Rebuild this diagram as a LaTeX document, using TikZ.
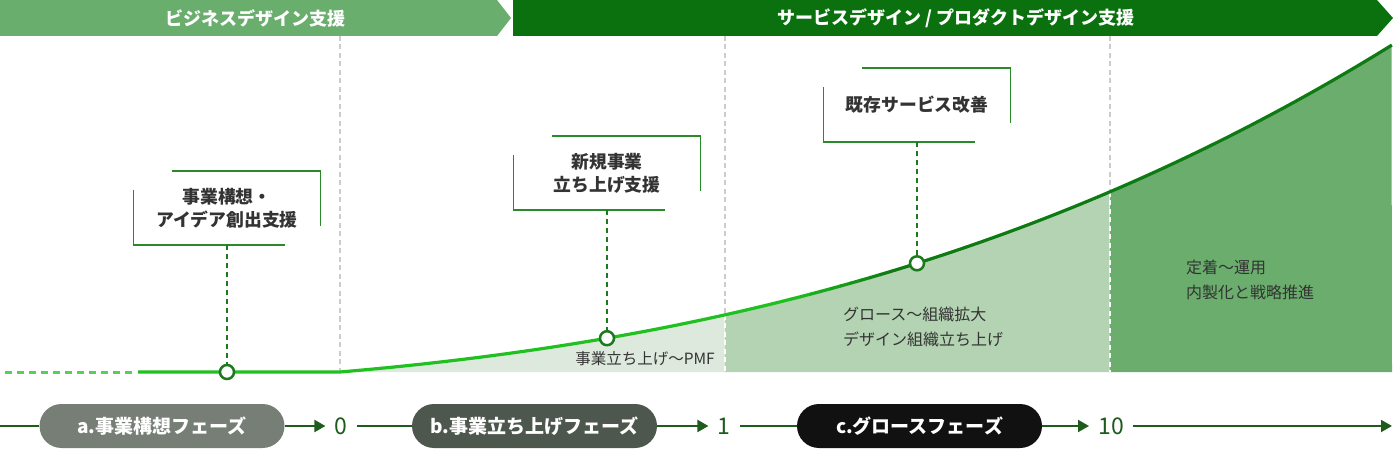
\documentclass[tikz,border=0pt]{standalone}
\usepackage{fontspec}
\setmainfont{Noto Sans CJK JP}
\usetikzlibrary{arrows.meta,calc}
\definecolor{bannerL}{HTML}{6AAE6E}
\definecolor{bannerR}{HTML}{0A710E}
\definecolor{fillA}{HTML}{DDE9DD}
\definecolor{fillB}{HTML}{B3D3B2}
\definecolor{fillC}{HTML}{6AAD6C}
\definecolor{curveL}{HTML}{1FC01F}
\definecolor{curveR}{HTML}{0E7A12}
\definecolor{frameG}{HTML}{2A8A2A}
\definecolor{connG}{HTML}{1B7A1B}
\definecolor{txt}{HTML}{333333}
\definecolor{gridc}{HTML}{CCCCCC}
\definecolor{axisG}{HTML}{1D5C1D}
\definecolor{pillA}{HTML}{767E76}
\definecolor{pillB}{HTML}{4E574E}
\definecolor{pillC}{HTML}{111111}
\tikzset{
  bannertext/.style={text=white, font=\bfseries\fontsize{18}{18}\selectfont, inner sep=0},
  gridline/.style={gridc, line width=2pt, dash pattern=on 5pt off 3.5pt},
  gridwhite/.style={white, line width=2pt, dash pattern=on 5pt off 3.5pt},
  boxtext/.style={minimum width=187pt, minimum height=74pt, inner sep=0, align=center, text=txt, font=\bfseries\fontsize{17.8}{23}\selectfont},
  frame/.style={frameG, line width=1.5pt},
  conn/.style={connG, line width=2pt, dash pattern=on 5pt off 4pt},
  milestone/.style={circle, draw=connG, fill=white, line width=2.5pt, minimum size=14pt, inner sep=0},
  note/.style={text=txt, inner sep=0, align=left, font=\fontsize{16}{24.5}\selectfont},
  pill/.style={rounded corners=22pt, minimum width=245pt, minimum height=44pt, inner sep=0, text=white, font=\bfseries\fontsize{19}{19}\selectfont},
  num/.style={text=axisG, inner xsep=9pt, inner ysep=0, font=\fontsize{23}{23}\selectfont},
  axis/.style={axisG, line width=2pt},
  axisarrow/.style={axis, -{Triangle[length=11pt,width=12pt]}},
  curve/.style={line width=3.2pt}
}
\begin{document}
\begin{tikzpicture}[x=1pt,y=-1pt]
\useasboundingbox (0,0) rectangle (1393,449);
% banners
\fill[bannerL] (0,0) -- (497,0) -- (511,18) -- (497,36) -- (0,36) -- cycle;
\fill[bannerR] (513,0) -- (1377,0) -- (1393,18) -- (1377,36) -- (513,36) -- cycle;
\node[bannertext] (bl) at (255,18) {ビジネスデザイン支援};
\node[bannertext] (br) at (956,18) {サービスデザイン / プロダクトデザイン支援};
% grid coordinates
\coordinate (g0t) at (340,36); \coordinate (g0b) at (340,372);
\coordinate (g1t) at (725,36); \coordinate (g1c) at (725,314.8); \coordinate (g1b) at (725,372);
\coordinate (g2t) at (1110,36); \coordinate (g2c) at (1110,191.8); \coordinate (g2b) at (1110,372);
\draw[gridline] (g0t) -- (g0b);
\draw[gridline] (g1t) -- (g1c);
\draw[gridline] (g2t) -- (g2c);
% fills
\fill[fillA] (340,372) -- plot[domain=0:0.385,samples=40,variable=\gx] ({340+1000*\gx},{372-(85.155*\gx+135.53*\gx*\gx+75.09*\gx*\gx*\gx)}) -- (725,372) -- cycle;
\fill[fillB] (725,372) -- plot[domain=0.385:0.770,samples=40,variable=\gx] ({340+1000*\gx},{372-(85.155*\gx+135.53*\gx*\gx+75.09*\gx*\gx*\gx)}) -- (1110,372) -- cycle;
\fill[fillC] (1110,372) -- plot[domain=0.770:1.052,samples=40,variable=\gx] ({340+1000*\gx},{372-(85.155*\gx+135.53*\gx*\gx+75.09*\gx*\gx*\gx)}) -- (1392,372) -- cycle;
\draw[gridwhite] (g1c) -- (g1b);
\draw[gridwhite] (g2c) -- (g2b);
% fill labels
\node[note, font=\fontsize{15.5}{18}\selectfont] (t1) at (645,359) {事業立ち上げ〜PMF};
\node[note, anchor=west] (t2) at (843,327) {グロース〜組織拡大\\デザイン組織立ち上げ};
\node[note, anchor=west] (t3) at (1186,280) {定着〜運用\\内製化と戦略推進};
% curve
\draw[curveL!75!white, line width=3pt, dash pattern=on 7pt off 5pt] (5,372) -- (135,372);
\begin{scope}
\clip (0,0) rectangle (790.5,449);
\draw[curveL, curve] (138,372) -- plot[domain=0:0.5,samples=60,variable=\gx] ({340+1000*\gx},{372-(85.155*\gx+135.53*\gx*\gx+75.09*\gx*\gx*\gx)});
\end{scope}
\foreach \i in {0,...,9} {
  \pgfmathtruncatemacro\pc{100-\i*10-5}
  \begin{scope}
  \clip ({790+\i*10},0) rectangle ({800.5+\i*10},449);
  \draw[curveL!\pc!curveR, curve] plot[domain=0.4:0.6,samples=40,variable=\gx] ({340+1000*\gx},{372-(85.155*\gx+135.53*\gx*\gx+75.09*\gx*\gx*\gx)});
  \end{scope}
}
\begin{scope}
\clip (890,0) rectangle (1393,449);
\draw[curveR, curve] plot[domain=0.5:1.052,samples=60,variable=\gx] ({340+1000*\gx},{372-(85.155*\gx+135.53*\gx*\gx+75.09*\gx*\gx*\gx)});
\end{scope}
% boxes
\node[boxtext] (b1) at (227,208) {事業構想・\\アイデア創出支援};
\node[boxtext] (b2) at (607,173) {新規事業\\立ち上げ支援};
\node[boxtext] (b3) at (917,105) {既存サービス改善};
\foreach \b in {b1,b2,b3} {
  \draw[frame] ([xshift=39pt]\b.north west) -- (\b.north east) -- ([yshift=-55pt]\b.north east);
  \draw[frame] ([yshift=-19pt]\b.north west) -- (\b.south west) -- ([xshift=152pt]\b.south west);
}
% milestones
\node[milestone] (p1) at (227,372) {};
\node[milestone] (p2) at (607,338.2) {};
\node[milestone] (p3) at (917,263.3) {};
\draw[conn] (b1.south) -- (p1.north);
\draw[conn] (b2.south) -- (p2.north);
\draw[conn] (b3.south) -- (p3.north);
% bottom axis
\coordinate (s) at (0,426);
\coordinate (e) at (1392,426);
\node[pill, fill=pillA] (pa) at (162,426) {a.事業構想フェーズ};
\node[pill, fill=pillB] (pb) at (534.5,426) {b.事業立ち上げフェーズ};
\node[pill, fill=pillC] (pc) at (919.5,426) {c.グロースフェーズ};
\node[num] (n0) at (341,426) {0};
\node[num] (n1) at (724,426) {1};
\node[num] (n10) at (1111,426) {10};
\draw[axis] (s) -- (pa.west);
\draw[axisarrow] (pa.east) -- (n0.west);
\draw[axis] (n0.east) -- (pb.west);
\draw[axisarrow] (pb.east) -- (n1.west);
\draw[axis] (n1.east) -- (pc.west);
\draw[axisarrow] (pc.east) -- (n10.west);
\draw[axisarrow] (n10.east) -- (e);
\end{tikzpicture}
\end{document}
